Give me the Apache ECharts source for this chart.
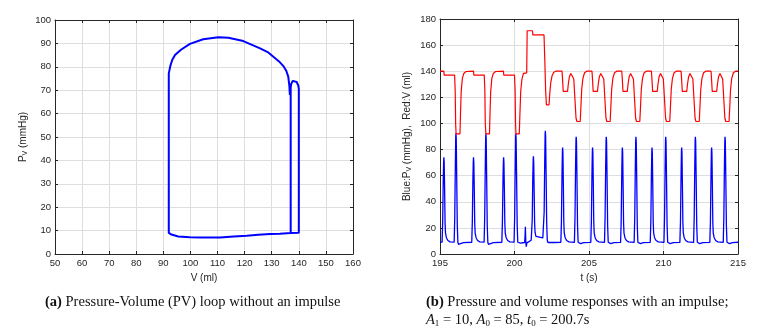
<!DOCTYPE html>
<html lang="en">
<head>
    <meta charset="UTF-8">
    <title>PV loop</title>
    <script src="https://cdn.jsdelivr.net/npm/echarts@6/dist/echarts.min.js"></script>
    <style>
        body { margin: 0; background: #fff; }
        #wrap { position: relative; width: 762px; height: 330px; }
        #main { position: absolute; left: 0; top: 0; width: 762px; height: 330px; }
        .cap { position: absolute; font-family: "Liberation Serif", serif; font-size: 14.5px; line-height: 17.5px; color: #111; white-space: nowrap; }
        .cap sub { font-size: 9px; vertical-align: -2px; line-height: 0; }
    </style>
</head>
<body>
<div id="wrap">
    <div id="main"></div>
    <div class="cap" style="left:45px; top:293px;"><b>(a)</b> Pressure-Volume (PV) loop without an impulse</div>
    <div class="cap" style="left:426px; top:293px;"><b>(b)</b> Pressure and volume responses with an impulse;<br>
        <i>A</i><sub>1</sub> = 10, <i>A</i><sub>0</sub> = 85, <i>t</i><sub>0</sub> = 200.7s</div>
</div>

<script>
    // (a) PV loop: [V (ml), P (mmHg)]
    var loopPoints = [
        [137, 9], [137, 71], [137.2, 72.8], [137.8, 74], [138.5, 74.1], [139.2, 73.5], [139.8, 72], [140, 70.6],
        [140, 9.1], [137, 9], [133, 8.7], [129.4, 8.5], [125, 8.2], [120.8, 7.8], [116, 7.5], [110.9, 7.1],
        [104, 7.1], [99.8, 7.2], [95.5, 7.5], [93, 8.3], [92, 9], [92, 77.2], [92.6, 80.5], [93.3, 83],
        [94.3, 85], [96.5, 87.3], [99.8, 89.8], [104.7, 91.8], [110.3, 92.6], [114, 92.4], [119.5, 91],
        [125.7, 87.9], [128.5, 86.3], [130.6, 84.3], [132.7, 82.3], [134.3, 80.3], [135.4, 78.2], [136.1, 75.8],
        [136.5, 72], [136.7, 68]
    ];

    // (b) blue: ventricular pressure [t (s), P (mmHg)]
    var pressure = [
        [195.00, 9.0], [195.14, 9.1], [195.18, 25], [195.22, 58], [195.245, 71], [195.26, 74], [195.28, 70], [195.31, 50], [195.34, 24], [195.37, 16], [195.43, 12.5], [195.53, 10.3], [195.68, 9.3],
        [195.95, 9.1], [195.99, 28], [196.03, 68], [196.055, 89.5], [196.07, 92.5], [196.09, 88.5], [196.12, 60], [196.16, 22], [196.20, 9], [196.24, 7.4], [196.37, 7.9], [196.57, 8.7],
        [197.13, 9.0], [197.17, 25], [197.21, 58], [197.235, 71], [197.25, 74], [197.27, 70], [197.30, 50], [197.33, 24], [197.36, 16], [197.42, 12.5], [197.52, 10.3], [197.67, 9.3],
        [197.96, 9.1], [198.00, 28], [198.04, 68], [198.065, 89], [198.08, 92.2], [198.10, 88], [198.13, 60], [198.17, 22], [198.21, 9], [198.25, 7.4], [198.38, 7.9], [198.58, 8.7],
        [199.15, 9.0], [199.19, 25], [199.23, 58], [199.255, 71], [199.27, 74], [199.29, 70], [199.32, 50], [199.35, 24], [199.38, 16], [199.44, 12.5], [199.54, 10.3], [199.69, 9.3],
        [199.97, 9.1], [200.01, 28], [200.05, 68], [200.075, 89], [200.09, 92.3], [200.11, 88], [200.14, 60], [200.18, 22], [200.22, 9], [200.26, 7.5], [200.40, 8.3], [200.68, 8.8],
        [200.71, 14], [200.73, 20.8], [200.76, 9], [200.79, 5.6], [200.83, 8.5], [200.95, 9.6], [201.12, 10.5],
        [201.15, 11], [201.19, 26], [201.23, 60], [201.255, 72], [201.27, 74.8], [201.29, 70], [201.32, 48], [201.35, 24], [201.38, 16.5], [201.44, 13.5], [201.55, 12.5], [201.90, 12.3],
        [201.95, 12.5], [201.99, 32], [202.03, 72], [202.055, 91.5], [202.07, 94.4], [202.09, 90], [202.12, 62], [202.16, 24], [202.20, 10.5], [202.25, 8.8], [202.70, 8.8],
        [203.11, 8.9], [203.15, 25], [203.19, 62], [203.215, 78.5], [203.23, 81.5], [203.25, 77.5], [203.28, 52], [203.31, 24], [203.34, 16], [203.40, 12.5], [203.50, 10.3], [203.65, 9.3],
        [204.02, 8.9], [204.06, 28], [204.10, 68], [204.125, 87], [204.14, 89.8], [204.16, 86], [204.19, 60], [204.23, 22], [204.27, 9], [204.31, 7.5], [204.44, 8], [204.64, 8.7],
        [205.12, 8.9], [205.16, 25], [205.20, 62], [205.225, 78.5], [205.24, 81.5], [205.26, 77.5], [205.29, 52], [205.32, 24], [205.35, 16], [205.41, 12.5], [205.51, 10.3], [205.66, 9.3],
        [206.04, 8.9], [206.08, 28], [206.12, 68], [206.145, 87], [206.16, 89.8], [206.18, 86], [206.21, 60], [206.25, 22], [206.29, 9], [206.33, 7.5], [206.46, 8], [206.66, 8.7],
        [207.12, 8.9], [207.16, 25], [207.20, 62], [207.225, 78.5], [207.24, 81.5], [207.26, 77.5], [207.29, 52], [207.32, 24], [207.35, 16], [207.41, 12.5], [207.51, 10.3], [207.66, 9.3],
        [208.03, 8.9], [208.07, 28], [208.11, 68], [208.135, 87], [208.15, 89.8], [208.17, 86], [208.20, 60], [208.24, 22], [208.28, 9], [208.32, 7.5], [208.45, 8], [208.65, 8.7],
        [209.11, 8.9], [209.15, 25], [209.19, 62], [209.215, 78.5], [209.23, 81.5], [209.25, 77.5], [209.28, 52], [209.31, 24], [209.34, 16], [209.40, 12.5], [209.50, 10.3], [209.65, 9.3],
        [210.03, 8.9], [210.07, 28], [210.11, 68], [210.135, 87], [210.15, 89.8], [210.17, 86], [210.20, 60], [210.24, 22], [210.28, 9], [210.32, 7.5], [210.45, 8], [210.65, 8.7],
        [211.10, 8.9], [211.14, 25], [211.18, 62], [211.205, 78.5], [211.22, 81.5], [211.24, 77.5], [211.27, 52], [211.30, 24], [211.33, 16], [211.39, 12.5], [211.49, 10.3], [211.64, 9.3],
        [212.02, 8.9], [212.06, 28], [212.10, 68], [212.125, 87], [212.14, 89.8], [212.16, 86], [212.19, 60], [212.23, 22], [212.27, 9], [212.31, 7.5], [212.44, 8], [212.64, 8.7],
        [213.11, 8.9], [213.15, 25], [213.19, 62], [213.215, 78.5], [213.23, 81.5], [213.25, 77.5], [213.28, 52], [213.31, 24], [213.34, 16], [213.40, 12.5], [213.50, 10.3], [213.65, 9.3],
        [214.01, 8.9], [214.05, 28], [214.09, 68], [214.115, 87], [214.13, 89.8], [214.15, 86], [214.18, 60], [214.22, 22], [214.26, 9], [214.30, 7.5], [214.43, 8], [214.63, 8.7], [215.00, 9.0]
    ];

    // (b) red: ventricular volume [t (s), V (ml)]
    var volume = [
        [195.00, 140], [195.26, 140], [195.28, 137], [195.98, 137], [196.02, 125], [196.05, 100], [196.08, 92], [196.34, 92], [196.37, 105], [196.42, 124], [196.50, 134.5], [196.60, 138.3], [196.75, 139.8], [196.85, 140],
        [197.25, 140], [197.27, 137], [197.97, 137], [198.01, 125], [198.04, 100], [198.08, 92], [198.32, 92], [198.35, 105], [198.40, 124], [198.48, 134.5], [198.58, 138.3], [198.73, 139.8], [198.85, 140],
        [199.26, 140], [199.28, 137], [200.00, 137], [200.04, 125], [200.07, 100], [200.10, 92], [200.32, 92], [200.36, 106], [200.42, 125], [200.50, 134], [200.60, 138.3], [200.82, 138.8],
        [200.85, 171], [201.21, 171], [201.23, 167.8], [201.98, 167.8], [202.03, 150], [202.09, 125], [202.14, 114.3], [202.32, 114.3], [202.36, 122], [202.43, 131], [202.52, 136.5], [202.64, 139.2], [202.78, 140],
        [203.19, 140], [203.23, 133], [203.27, 124.5], [203.56, 124.5], [203.61, 130], [203.68, 135.5], [203.78, 138.3], [203.88, 138.6], [203.98, 134], [204.06, 118], [204.13, 104], [204.19, 101.5], [204.41, 101.5], [204.45, 111], [204.51, 126], [204.59, 134.5], [204.70, 138.8], [204.85, 140],
        [205.20, 140], [205.24, 133], [205.28, 124.5], [205.57, 124.5], [205.62, 130], [205.69, 135.5], [205.79, 138.3], [205.89, 138.6], [205.99, 134], [206.07, 118], [206.14, 104], [206.20, 101.5], [206.42, 101.5], [206.46, 111], [206.52, 126], [206.60, 134.5], [206.71, 138.8], [206.86, 140],
        [207.20, 140], [207.24, 133], [207.28, 124.5], [207.57, 124.5], [207.62, 130], [207.69, 135.5], [207.79, 138.3], [207.89, 138.6], [207.98, 134], [208.06, 118], [208.13, 104], [208.19, 101.5], [208.41, 101.5], [208.45, 111], [208.51, 126], [208.59, 134.5], [208.70, 138.8], [208.85, 140],
        [209.19, 140], [209.23, 133], [209.27, 124.5], [209.58, 124.5], [209.63, 130], [209.70, 135.5], [209.80, 138.3], [209.90, 138.6], [209.99, 134], [210.07, 118], [210.14, 104], [210.20, 101.5], [210.42, 101.5], [210.46, 111], [210.52, 126], [210.60, 134.5], [210.71, 138.8], [210.86, 140],
        [211.18, 140], [211.22, 133], [211.26, 124.5], [211.56, 124.5], [211.61, 130], [211.68, 135.5], [211.78, 138.3], [211.88, 138.6], [211.97, 134], [212.05, 118], [212.12, 104], [212.18, 101.5], [212.40, 101.5], [212.44, 111], [212.50, 126], [212.58, 134.5], [212.69, 138.8], [212.84, 140],
        [213.19, 140], [213.23, 133], [213.27, 124.5], [213.57, 124.5], [213.62, 130], [213.69, 135.5], [213.79, 138.3], [213.89, 138.6], [213.97, 134], [214.05, 118], [214.12, 104], [214.18, 101.5], [214.40, 101.5], [214.44, 111], [214.50, 126], [214.58, 134.5], [214.69, 138.8], [214.84, 140], [215.00, 140]
    ];

    // axis ranges [min, max, interval]
    var loopX = [50, 160, 10];
    var loopY = [0, 100, 10];
    var timeX = [195, 215, 5];
    var respY = [0, 180, 20];

    var axisColor = '#262626';
    var gridColor = '#dedede';
    var tickFont = { fontFamily: 'Liberation Sans', fontSize: 9.5, color: axisColor };
    var nameFont = {
        fontFamily: 'Liberation Sans', fontSize: 10, color: axisColor,
        rich: {
            n: { fontFamily: 'Liberation Sans', fontSize: 10, color: axisColor, lineHeight: 12, verticalAlign: 'middle' },
            s: { fontFamily: 'Liberation Sans', fontSize: 7, color: axisColor, lineHeight: 7, verticalAlign: 'bottom' }
        }
    };

    // axis with labels and grid lines
    function mainAxis(grid, pos, r, name, gap) {
        return {
            type: 'value', gridIndex: grid, position: pos,
            min: r[0], max: r[1], interval: r[2],
            name: name, nameLocation: 'middle', nameGap: gap, nameTextStyle: nameFont,
            axisLine: { show: true, onZero: false, lineStyle: { color: axisColor, width: 1 } },
            axisTick: { show: true, inside: true, length: 3, lineStyle: { color: axisColor } },
            axisLabel: Object.assign({ margin: 4 }, tickFont),
            splitLine: { show: true, lineStyle: { color: gridColor, width: 1 } }
        };
    }
    // other side of the box: line + inward ticks only
    function boxAxis(grid, pos, r) {
        return {
            type: 'value', gridIndex: grid, position: pos,
            min: r[0], max: r[1], interval: r[2],
            axisLine: { show: true, onZero: false, lineStyle: { color: axisColor, width: 1 } },
            axisTick: { show: true, inside: true, length: 3, lineStyle: { color: axisColor } },
            axisLabel: { show: false },
            splitLine: { show: false }
        };
    }

    var myChart = echarts.init(document.getElementById('main'));
    var option = {
        animation: false,
        grid: [
            { left: 55, top: 20, width: 298, height: 234 },
            { left: 440, top: 19, width: 298, height: 235 }
        ],
        xAxis: [
            mainAxis(0, 'bottom', loopX, '{n|V (ml)}', 17),
            boxAxis(0, 'top', loopX),
            mainAxis(1, 'bottom', timeX, '{n|t (s)}', 17),
            boxAxis(1, 'top', timeX)
        ],
        yAxis: [
            mainAxis(0, 'left', loopY, '{n|P}{s|V}{n| (mmHg)}', 26),
            boxAxis(0, 'right', loopY),
            mainAxis(1, 'left', respY, '{n|Blue:P}{s|V}{n| (mmHg),  Red:V (ml)}', 27),
            boxAxis(1, 'right', respY)
        ],
        series: [
            {
                name: 'PV loop', type: 'line', xAxisIndex: 0, yAxisIndex: 0,
                data: loopPoints, showSymbol: false,
                lineStyle: { color: '#0000ff', width: 2 }
            },
            {
                name: 'Pressure', type: 'line', xAxisIndex: 2, yAxisIndex: 2,
                data: pressure, showSymbol: false,
                lineStyle: { color: '#0000ff', width: 1.3 }
            },
            {
                name: 'Volume', type: 'line', xAxisIndex: 2, yAxisIndex: 2,
                data: volume, showSymbol: false,
                lineStyle: { color: '#ff0000', width: 1.2 }
            }
        ]
    };
    myChart.setOption(option);
</script>
</body>
</html>
